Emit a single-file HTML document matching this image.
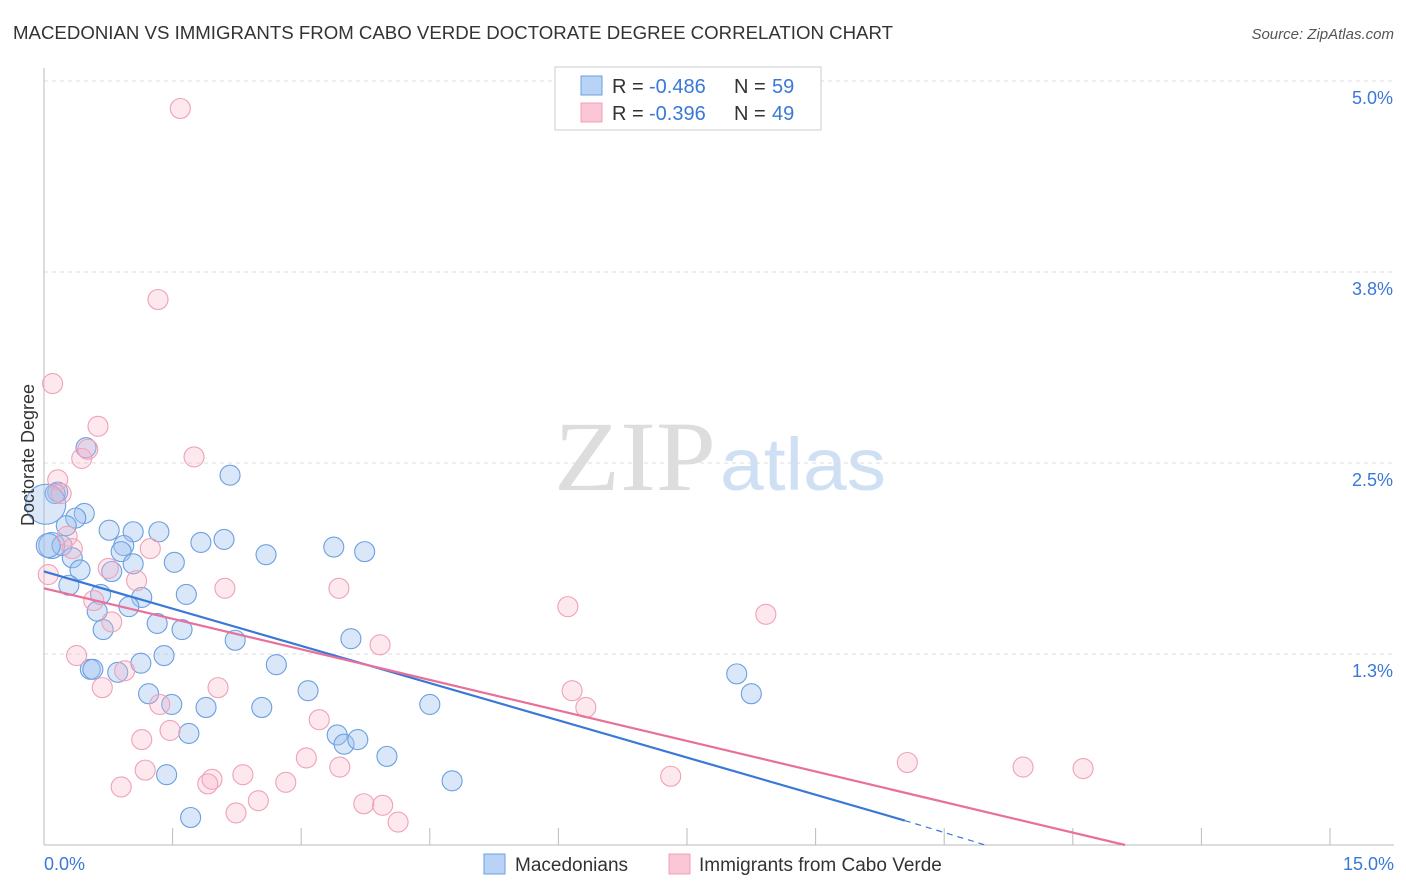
<!DOCTYPE html>
<html><head><meta charset="utf-8"><style>
body{margin:0;background:#fff;font-family:"Liberation Sans",sans-serif;}
</style></head><body>
<svg id="chart" width="1406" height="892" xmlns="http://www.w3.org/2000/svg" style="display:block">
<text x="13" y="39" font-size="18" fill="#333" textLength="880" lengthAdjust="spacingAndGlyphs">MACEDONIAN VS IMMIGRANTS FROM CABO VERDE DOCTORATE DEGREE CORRELATION CHART</text>
<text x="1394" y="39" font-size="15" fill="#555" text-anchor="end" font-style="italic">Source: ZipAtlas.com</text>
<g>
<text x="716" y="490" font-size="100" fill="#ddd" text-anchor="end" font-family="Liberation Serif,serif" textLength="162" lengthAdjust="spacingAndGlyphs">ZIP</text>
<text x="720" y="490" font-size="74" fill="#cfe0f5" textLength="166" lengthAdjust="spacingAndGlyphs">atlas</text>
</g>
<g id="grid"></g>
<g id="marks"></g>
<g>
<rect x="555" y="67" width="266" height="63" fill="#fff" stroke="#ccc"/>
<rect x="581" y="76" width="21" height="19" fill="#b8d3f5" stroke="#6a9fe0"/>
<rect x="581" y="103" width="21" height="19" fill="#fbc7d6" stroke="#f0a0b8"/>
<text x="612" y="93" font-size="20" fill="#333">R =</text>
<text x="649" y="93" font-size="20" fill="#3a78d8">-0.486</text>
<text x="734" y="93" font-size="20" fill="#333">N =</text>
<text x="772" y="93" font-size="20" fill="#3a78d8">59</text>
<text x="612" y="120" font-size="20" fill="#333">R =</text>
<text x="649" y="120" font-size="20" fill="#3a78d8">-0.396</text>
<text x="734" y="120" font-size="20" fill="#333">N =</text>
<text x="772" y="120" font-size="20" fill="#3a78d8">49</text>
</g>
<text transform="translate(34,455) rotate(-90)" font-size="18" fill="#333" text-anchor="middle">Doctorate Degree</text>
<text x="44" y="870" font-size="18" fill="#3a78d8">0.0%</text>
<text x="1394" y="870" font-size="18" fill="#3a78d8" text-anchor="end">15.0%</text>
<g>
<rect x="484" y="854" width="21" height="20" fill="#b8d3f5" stroke="#6a9fe0"/>
<text x="515" y="871" font-size="19" fill="#333">Macedonians</text>
<rect x="669" y="854" width="21" height="20" fill="#fbc7d6" stroke="#f0a0b8"/>
<text x="699" y="871" font-size="19" fill="#333">Immigrants from Cabo Verde</text>
</g>
</svg>
<script>
const yTicks=[1.25,2.5,3.75,5.0];
const yTickLabels=["1.3%","2.5%","3.8%","5.0%"];
const xTicks=[0,1.5,3,4.5,6,7.5,9,10.5,12,13.5,15];
const blueX=[0.49,0.16,0.13,0.47,0.37,0.26,0.09,0.21,0.33,0.42,0.29,0.76,1.04,1.34,0.93,0.90,0.79,1.04,1.52,0.66,1.14,1.66,1.83,2.10,2.17,2.59,3.38,3.74,0.62,0.99,1.32,1.61,0.69,2.23,3.58,1.40,1.13,0.54,0.57,0.86,2.71,1.22,1.49,1.89,2.54,3.08,4.50,1.69,3.42,3.50,3.66,4.00,1.43,4.76,1.71,8.08,8.25,0.02,0.05];
const blueY=[2.60,2.31,2.30,2.17,2.14,2.09,1.96,1.96,1.88,1.80,1.70,2.06,2.05,2.05,1.96,1.92,1.79,1.84,1.85,1.64,1.62,1.64,1.98,2.00,2.42,1.90,1.95,1.92,1.53,1.56,1.45,1.41,1.41,1.34,1.35,1.24,1.19,1.15,1.15,1.13,1.18,0.99,0.92,0.90,0.90,1.01,0.92,0.73,0.72,0.66,0.69,0.58,0.46,0.42,0.18,1.12,0.99,2.23,1.96];
const blueSize=[1,1,1,1,1,1,1.3,1,1,1,1,1,1,1,1,1,1,1,1,1,1,1,1,1,1,1,1,1,1,1,1,1,1,1,1,1,1,1,1,1,1,1,1,1,1,1,1,1,1,1,1,1,1,1,1,1,1,2.0,1.2];
const pinkX=[1.59,1.33,0.10,0.63,0.44,0.51,1.75,0.16,0.20,0.27,0.33,1.24,0.05,0.75,1.08,2.11,3.44,0.58,0.79,3.92,6.11,8.42,0.38,0.94,0.68,2.03,6.16,6.32,1.35,3.21,1.47,1.14,3.06,3.45,1.18,1.96,1.91,2.32,2.82,0.90,2.50,3.73,3.95,2.24,4.13,7.31,10.07,11.42,12.12];
const pinkY=[4.82,3.57,3.02,2.74,2.53,2.59,2.54,2.39,2.30,2.02,1.94,1.94,1.77,1.81,1.73,1.68,1.68,1.60,1.46,1.31,1.56,1.51,1.24,1.14,1.03,1.03,1.01,0.90,0.92,0.82,0.75,0.69,0.57,0.51,0.49,0.43,0.40,0.46,0.41,0.38,0.29,0.27,0.26,0.21,0.15,0.45,0.54,0.51,0.50];
const blueTrend=[[0,1.79],[10.04,0.16],[10.98,0]];
const pinkTrend=[[0,1.68],[12.61,0]];
const X0=44,X1=1330,Y0=845,PXY=152.8;
const sx=v=>X0+v*(X1-X0)/15;
const sy=v=>Y0-v*PXY;
const NS="http://www.w3.org/2000/svg";
function mk(tag,attrs,parent){const e=document.createElementNS(NS,tag);for(const k in attrs)e.setAttribute(k,attrs[k]);parent.appendChild(e);return e;}
const grid=document.getElementById('grid'),marks=document.getElementById('marks');
yTicks.forEach((t,i)=>{
 const l=mk('line',{x1:44,x2:1394,y1:sy(t),y2:sy(t),stroke:'#ddd','stroke-dasharray':'4,4'},grid);
 
 
 const tx=mk('text',{x:1393,y:sy(t)+23,'font-size':18,fill:'#3a78d8','text-anchor':'end'},grid);
 tx.textContent=yTickLabels[i];
 
 
});
const ax=mk('line',{x1:44,x2:1394,y1:Y0,y2:Y0,stroke:'#bbb'},grid);


const ay=mk('line',{x1:44,x2:44,y1:68,y2:Y0,stroke:'#bbb'},grid);


xTicks.forEach(t=>{
 const l=mk('line',{x1:sx(t),x2:sx(t),y1:828,y2:Y0,stroke:'#bbb'},grid);
 
 
});
blueX.forEach((v,i)=>{
 const c=mk('circle',{cx:sx(v),cy:sy(blueY[i]),r:10*blueSize[i],fill:'rgba(160,196,240,0.4)',stroke:'#6a9fe0','stroke-width':1.1},marks);
 
 
});
pinkX.forEach((v,i)=>{
 const c=mk('circle',{cx:sx(v),cy:sy(pinkY[i]),r:10,fill:'rgba(248,180,200,0.3)',stroke:'#f0a0b8','stroke-width':1.1},marks);
 
 
});
const bl=mk('line',{x1:sx(blueTrend[0][0]),y1:sy(blueTrend[0][1]),x2:sx(blueTrend[1][0]),y2:sy(blueTrend[1][1]),stroke:'#3a78d8','stroke-width':2.2},marks);


const bd=mk('line',{x1:sx(blueTrend[1][0]),y1:sy(blueTrend[1][1]),x2:sx(blueTrend[2][0]),y2:sy(blueTrend[2][1]),stroke:'#3a78d8','stroke-width':1.2,'stroke-dasharray':'6,5'},marks);


const pl=mk('line',{x1:sx(pinkTrend[0][0]),y1:sy(pinkTrend[0][1]),x2:sx(pinkTrend[1][0]),y2:sy(pinkTrend[1][1]),stroke:'#e8709a','stroke-width':2.2},marks);


</script>
</body></html>
